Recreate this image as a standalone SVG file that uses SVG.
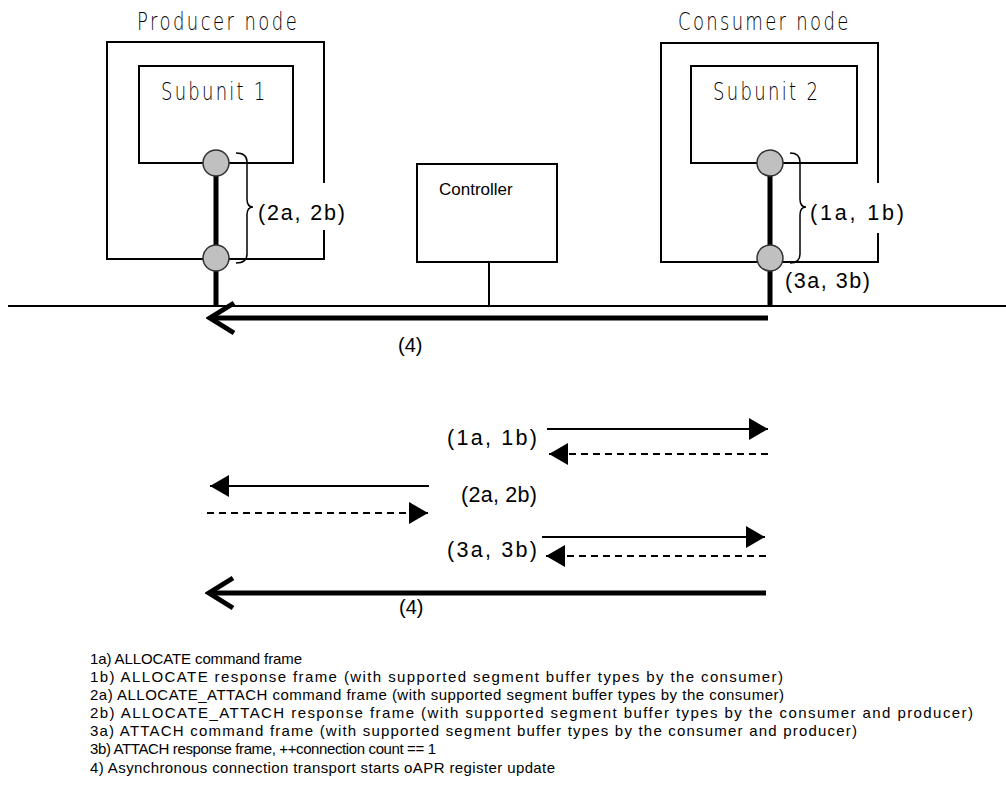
<svg xmlns="http://www.w3.org/2000/svg" width="1006" height="807" viewBox="0 0 1006 807">
  <style>
    .box { fill: #ffffff; stroke: #000000; stroke-width: 2; }
    .title { font-family: "DejaVu Sans", "Liberation Sans", sans-serif; font-weight: 200; font-size: 24px; fill: #000; }
    .lbl { font-family: "Liberation Sans", Arial, sans-serif; font-size: 20px; fill: #000; }
    .tag { font-family: "Liberation Sans", Arial, sans-serif; font-size: 21.5px; fill: #000; }
    .note { font-family: "Liberation Sans", Arial, sans-serif; font-size: 15px; fill: #000; }
    .port { fill: #c0c0c0; stroke: #333333; stroke-width: 1.5; }
    .stem { stroke: #000; stroke-width: 5; fill: none; }
    .brace { fill: none; stroke: #000; stroke-width: 1.5; }
    .thin { stroke: #000; stroke-width: 2; fill: none; }
    .msg { stroke: #000; stroke-width: 2; fill: none; }
    .dash { stroke: #000; stroke-width: 2; fill: none; stroke-dasharray: 7 5; }
    .bulk { stroke: #000; stroke-width: 5; fill: none; }
  </style>
  <defs>
    <marker id="tri" markerUnits="userSpaceOnUse" markerWidth="20" markerHeight="22" refX="19" refY="11" orient="auto">
      <path d="M0,0 L19,11 L0,22 Z" fill="#000"/>
    </marker>
    <marker id="chev" markerUnits="userSpaceOnUse" markerWidth="32" markerHeight="36" refX="28" refY="18" orient="auto">
      <path d="M4,3 L28,18 L4,33" fill="none" stroke="#000" stroke-width="5" stroke-linecap="butt"/>
    </marker>
  </defs>

  <!-- shared bus -->
  <g id="bus">
    <line x1="8" y1="306" x2="1006" y2="306" class="thin"/>
  </g>

  <!-- producer node -->
  <g id="producer">
    <rect x="107" y="42" width="217" height="217" class="box"/>
    <text class="title" transform="scale(0.75,1)" x="182.7" y="30" textLength="213" lengthAdjust="spacing">Producer node</text>
    <g id="subunit1">
      <rect x="139" y="66" width="154" height="97" class="box"/>
      <text class="title" transform="scale(0.75,1)" x="214.7" y="100" textLength="139" lengthAdjust="spacing">Subunit 1</text>
    </g>
    <line x1="216" y1="163" x2="216" y2="306" class="stem"/>
    <circle cx="216" cy="163" r="13" class="port"/>
    <circle cx="216" cy="258" r="13" class="port"/>
    <rect x="254" y="183" width="96" height="47" fill="#fff"/>
    <path class="brace" d="M236,153 Q247,153 247,162 L247,199 Q247,207 253,207 Q247,207 247,215 L247,254 Q247,263 236,263"/>
    <text class="tag" x="258" y="220" textLength="87" lengthAdjust="spacing">(2a, 2b)</text>
  </g>

  <!-- controller -->
  <g id="controller">
    <rect x="417" y="164" width="140" height="98" class="box"/>
    <text class="lbl" x="439" y="195" style="font-size:17px">Controller</text>
    <line x1="489" y1="262" x2="489" y2="306" class="thin"/>
  </g>

  <!-- consumer node -->
  <g id="consumer">
    <rect x="661" y="43" width="217" height="219" class="box"/>
    <text class="title" transform="scale(0.75,1)" x="904" y="30" textLength="227" lengthAdjust="spacing">Consumer node</text>
    <g id="subunit2">
      <rect x="691" y="66" width="166" height="97" class="box"/>
      <text class="title" transform="scale(0.75,1)" x="950.7" y="100" textLength="140" lengthAdjust="spacing">Subunit 2</text>
    </g>
    <line x1="770" y1="163" x2="770" y2="306" class="stem"/>
    <circle cx="770" cy="163" r="13" class="port"/>
    <circle cx="770" cy="258" r="13" class="port"/>
    <rect x="806" y="183" width="100" height="50" fill="#fff"/>
    <path class="brace" d="M790,153 Q800,153 800,162 L800,199 Q800,207 806,207 Q800,207 800,215 L800,254 Q800,263 790,263"/>
    <text class="tag" x="810" y="220" textLength="94" lengthAdjust="spacing">(1a, 1b)</text>
    <text class="tag" x="785" y="288" textLength="85" lengthAdjust="spacing">(3a, 3b)</text>
  </g>

  <!-- connectors -->
  <g id="connectors">
    <!-- streaming path over the bus -->
    <line x1="768" y1="318" x2="210" y2="318" class="bulk" marker-end="url(#chev)"/>
    <text class="lbl" x="398" y="352">(4)</text>

    <!-- message sequence -->
    <line x1="547" y1="429" x2="768" y2="429" class="msg" marker-end="url(#tri)"/>
    <line x1="768" y1="454" x2="549" y2="454" class="dash" marker-end="url(#tri)"/>
    <text class="tag" x="447" y="445" textLength="90" lengthAdjust="spacing">(1a, 1b)</text>

    <line x1="429" y1="486" x2="210" y2="486" class="msg" marker-end="url(#tri)"/>
    <line x1="207" y1="513" x2="428" y2="513" class="dash" marker-end="url(#tri)"/>
    <text class="tag" x="461" y="502" textLength="76" lengthAdjust="spacing">(2a, 2b)</text>

    <line x1="542" y1="537" x2="765" y2="537" class="msg" marker-end="url(#tri)"/>
    <line x1="766" y1="556" x2="546" y2="556" class="dash" marker-end="url(#tri)"/>
    <text class="tag" x="447" y="557" textLength="90" lengthAdjust="spacing">(3a, 3b)</text>

    <line x1="766" y1="593" x2="209" y2="593" class="bulk" marker-end="url(#chev)"/>
    <text class="lbl" x="399" y="614">(4)</text>
  </g>

  <!-- legend -->
  <g id="legend">
    <text class="note" x="90" y="664" textLength="212" lengthAdjust="spacing">1a) ALLOCATE command frame</text>
    <text class="note" x="90" y="682" textLength="693" lengthAdjust="spacing">1b) ALLOCATE response frame (with supported segment buffer types by the consumer)</text>
    <text class="note" x="90" y="700" textLength="694" lengthAdjust="spacing">2a) ALLOCATE_ATTACH command frame (with supported segment buffer types by the consumer)</text>
    <text class="note" x="90" y="718" textLength="883" lengthAdjust="spacing">2b) ALLOCATE_ATTACH response frame (with supported segment buffer types by the consumer and producer)</text>
    <text class="note" x="90" y="736" textLength="767" lengthAdjust="spacing">3a) ATTACH command frame (with supported segment buffer types by the consumer and producer)</text>
    <text class="note" x="90" y="754" textLength="346" lengthAdjust="spacing">3b) ATTACH response frame, ++connection count == 1</text>
    <text class="note" x="90" y="773" textLength="465" lengthAdjust="spacing">4) Asynchronous connection transport starts oAPR register update</text>
  </g>
</svg>
